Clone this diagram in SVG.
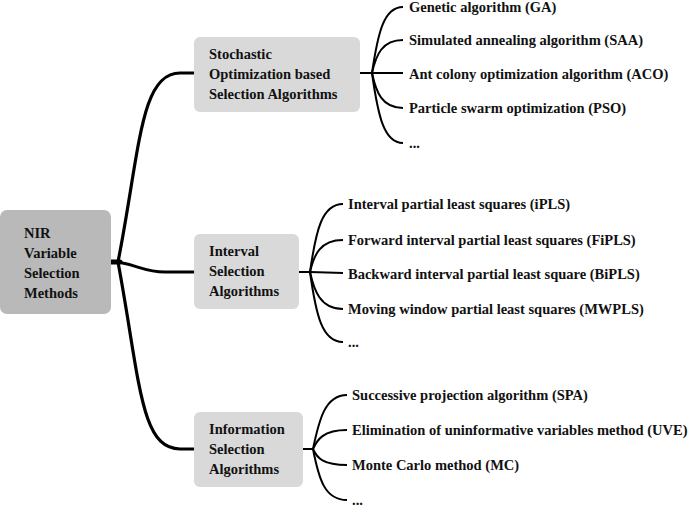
<svg xmlns="http://www.w3.org/2000/svg" width="700" height="509" viewBox="0 0 700 509">
<style>
text{font-family:"Liberation Serif","Times New Roman",serif;font-weight:bold;font-size:14.5px;fill:#111}
.root{fill:#b9b9b9}
.box{fill:#d9d9d9}
.main{fill:none;stroke:#000;stroke-width:3.2;stroke-linecap:round}
.leaf{fill:none;stroke:#000;stroke-width:2}
</style>
<rect width="700" height="509" fill="#fff"/>
<g id="connectors">
<path class="main" d="M110 262 L120 262" style="stroke-width:5"/>
<path class="main" d="M118 262 C140 150,140 73,180 73 L194 73"/>
<path class="main" d="M118 262 C140 266,145 272,165 272 L194 272" style="stroke-width:2.8"/>
<path class="main" d="M118 262 C140 380,140 449,180 449 L194 449"/>
<path class="leaf" d="M360 73 L372 73"/>
<path class="leaf" d="M372 73 C378 32,384 7,403 7"/>
<path class="leaf" d="M372 73 C376 55,382 40,403 40"/>
<path class="leaf" d="M372 73 L403 73"/>
<path class="leaf" d="M372 73 C376 92,382 108,403 108"/>
<path class="leaf" d="M372 73 C378 116,384 143,403 143"/>
<path class="leaf" d="M299 272 L310 272"/>
<path class="leaf" d="M310 272 C316 230,322 204,343 204"/>
<path class="leaf" d="M310 272 C314 255,320 240,343 240"/>
<path class="leaf" d="M310 272 L343 273"/>
<path class="leaf" d="M310 272 C314 290,320 309,343 309"/>
<path class="leaf" d="M310 272 C316 315,322 342,343 342"/>
<path class="leaf" d="M303 449 L313 449"/>
<path class="leaf" d="M313 449 C319 420,325 395,347 395"/>
<path class="leaf" d="M313 449 C317 440,323 430,347 430"/>
<path class="leaf" d="M313 449 C317 458,323 465,347 465"/>
<path class="leaf" d="M313 449 C319 480,325 500,347 500"/>
</g>
<g id="root">
<rect class="root" x="0" y="210" width="111" height="104" rx="7"/>
<text x="24" y="238">NIR</text>
<text x="24" y="258">Variable</text>
<text x="24" y="278">Selection</text>
<text x="24" y="298">Methods</text>
</g>
<g id="stochastic">
<rect class="box" x="194" y="37" width="166" height="75" rx="6"/>
<text x="209" y="59">Stochastic</text>
<text x="209" y="79">Optimization based</text>
<text x="209" y="99">Selection Algorithms</text>
</g>
<g id="interval">
<rect class="box" x="194" y="234" width="105" height="75" rx="6"/>
<text x="209" y="256">Interval</text>
<text x="209" y="276">Selection</text>
<text x="209" y="296">Algorithms</text>
</g>
<g id="information">
<rect class="box" x="194" y="412" width="109" height="75" rx="6"/>
<text x="209" y="434">Information</text>
<text x="209" y="454">Selection</text>
<text x="209" y="474">Algorithms</text>
</g>
<g id="leaves-stochastic">
<text x="409" y="12">Genetic algorithm (GA)</text>
<text x="409" y="45">Simulated annealing algorithm (SAA)</text>
<text x="409" y="79">Ant colony optimization algorithm (ACO)</text>
<text x="409" y="113">Particle swarm optimization (PSO)</text>
<text x="409" y="148">...</text>
</g>
<g id="leaves-interval">
<text x="348" y="209">Interval partial least squares (iPLS)</text>
<text x="348" y="245">Forward interval partial least squares (FiPLS)</text>
<text x="348" y="279">Backward interval partial least square (BiPLS)</text>
<text x="348" y="314">Moving window partial least squares (MWPLS)</text>
<text x="348" y="347">...</text>
</g>
<g id="leaves-information">
<text x="352" y="400">Successive projection algorithm (SPA)</text>
<text x="352" y="435">Elimination of uninformative variables method (UVE)</text>
<text x="352" y="470">Monte Carlo method (MC)</text>
<text x="352" y="505">...</text>
</g>
</svg>
